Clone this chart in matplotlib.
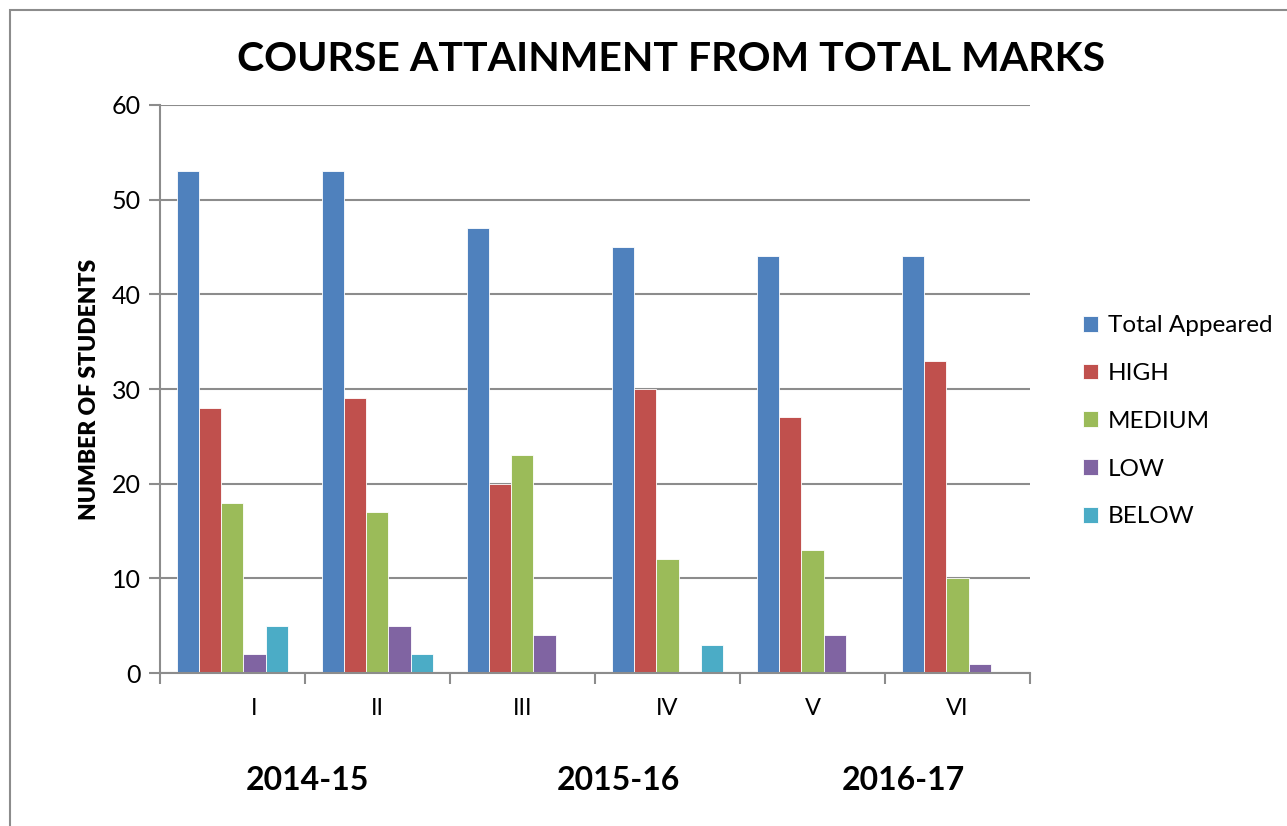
import matplotlib.pyplot as plt
import matplotlib.transforms as mtransforms
from matplotlib.patches import Rectangle
import numpy as np

# data
semesters = ['I', 'II', 'III', 'IV', 'V', 'VI']
years = ['2014-15', '2015-16', '2016-17']
series_names = ['Total Appeared', 'HIGH', 'MEDIUM', 'LOW', 'BELOW']
total_appeared = [53, 53, 47, 45, 44, 44]
high = [28, 29, 20, 30, 27, 33]
medium = [18, 17, 23, 12, 13, 10]
low = [2, 5, 4, 0, 4, 1]
below = [5, 2, 0, 3, 0, 0]

colors = ['#4F81BD', '#C0504D', '#9BBB59', '#8064A2', '#4BACC6']
FONT = ['Lato', 'DejaVu Sans']
plt.rcParams['font.family'] = FONT

fig = plt.figure(figsize=(12.87, 8.26), dpi=100)
ax = fig.add_axes([0.1243, 0.1852, 0.676, 0.6877])

# outer chart border (left + top only visible)
fig.patches.append(Rectangle((10 / 1287, -0.1), 1.2, (816 / 826) + 0.1,
                             transform=fig.transFigure, fill=False,
                             edgecolor='#8c8c8c', linewidth=1.5))

x = np.arange(len(semesters)) + 0.5
w = 0.152
all_series = [total_appeared, high, medium, low, below]
for k, (name, vals) in enumerate(zip(series_names, all_series)):
    ax.bar(x + (k - 2) * w, vals, width=w, color=colors[k], label=name,
           edgecolor='white', linewidth=0.6)

ax.set_xlim(0, len(semesters))
ax.set_ylim(0, 60)
ax.set_yticks(range(0, 61, 10))
ax.yaxis.grid(True, color='#8c8c8c', linewidth=1.5)
ax.set_axisbelow(True)

for s in ['top', 'right']:
    ax.spines[s].set_visible(False)
for s in ['left', 'bottom']:
    ax.spines[s].set_color('#8c8c8c')
    ax.spines[s].set_linewidth(1.5)

ax.set_xticks(range(0, len(semesters) + 1))
ax.set_xticklabels([])
ax.set_xticks(x, minor=True)
ax.set_xticklabels(semesters, minor=True, fontsize=17)
ax.tick_params(axis='x', which='major', length=8, width=1.5, color='#8c8c8c', direction='out')
ax.tick_params(axis='x', which='minor', length=0, pad=18)
ax.tick_params(axis='y', length=8, width=1.5, color='#8c8c8c', labelsize=18, pad=6)

# first semester label sits a little right of its group
lab0 = ax.get_xticklabels(minor=True)[0]
lab0.set_transform(lab0.get_transform() + mtransforms.ScaledTranslation(0.22, 0, fig.dpi_scale_trans))

ax.set_ylabel('NUMBER OF STUDENTS', fontsize=16.5, fontweight='heavy', labelpad=8)

fig.text(0.5214, 0.928, 'COURSE ATTAINMENT FROM TOTAL MARKS', ha='center', va='center',
         fontsize=29.5, fontweight='bold')

year_x = [307, 618, 903]
for yr, px in zip(years, year_x):
    fig.text(px / 1287, 1 - 780 / 826, yr, ha='center', va='center',
             fontsize=23, fontweight='bold')

ax.legend(loc='center left', bbox_to_anchor=(1.036, 0.443), frameon=False,
          fontsize=17.5, handlelength=0.62, handleheight=0.62,
          labelspacing=1.1, handletextpad=0.4)

fig.savefig('out.png', dpi=100)
